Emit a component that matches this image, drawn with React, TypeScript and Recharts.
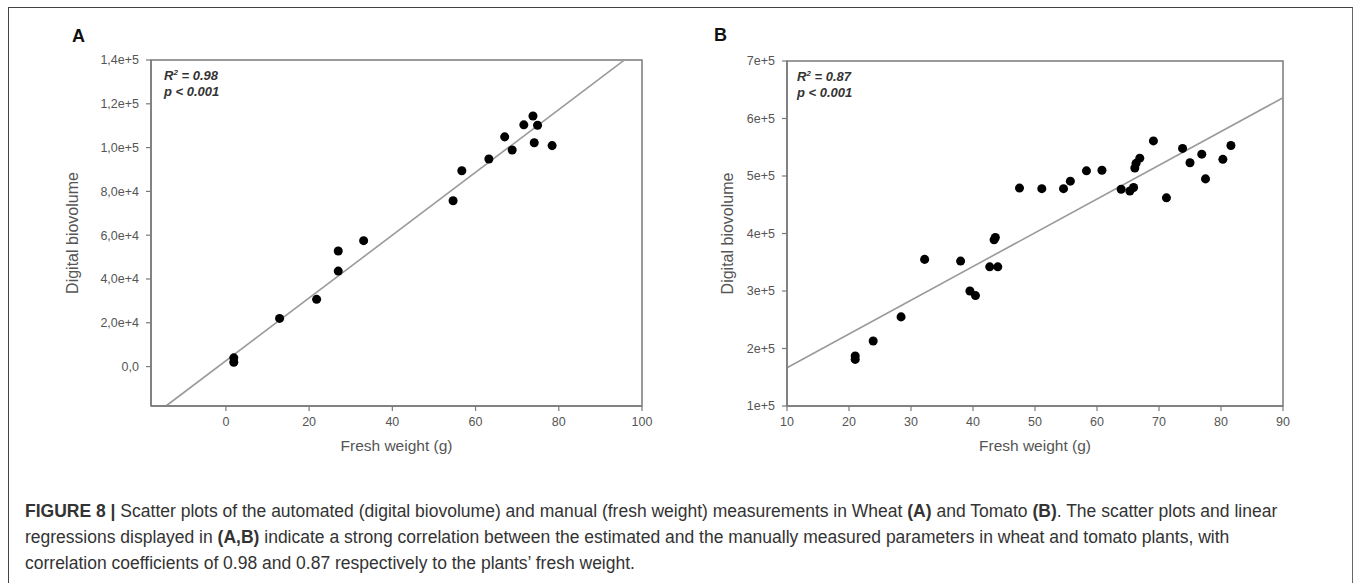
import React from 'react';
import {
  ScatterChart,
  Scatter,
  XAxis,
  YAxis,
  ZAxis,
  ReferenceLine,
  ReferenceArea,
} from 'recharts';

// ---------- Panel A (Wheat) ----------
const wheatFreshWeight = [73.8, 71.6, 74.9, 67.0, 74.1, 78.4, 68.8, 63.2, 56.7, 54.6, 33.1, 27.0, 27.0, 21.8, 12.9, 1.9, 1.9];
const wheatBiovolume = [114400, 110400, 110200, 104900, 102200, 100900, 98900, 94800, 89400, 75700, 57500, 52800, 43600, 30700, 22000, 4000, 2000];
const wheatXTicks = [0, 20, 40, 60, 80, 100];
const wheatYTicks = [0, 20000, 40000, 60000, 80000, 100000, 120000, 140000];
const wheatYTickLabels = ['0,0', '2,0e+4', '4,0e+4', '6,0e+4', '8,0e+4', '1,0e+5', '1,2e+5', '1,4e+5'];
const wheatXDomain = [-18, 100];
const wheatYDomain = [-18000, 140000];
const wheatFitSlope = 1434;
const wheatFitIntercept = 2650;
const wheatFitX = [-14.4, 95.8];

// ---------- Panel B (Tomato) ----------
const tomatoFreshWeight = [
  69.1, 73.8, 81.6, 76.9, 75.0, 80.3, 77.5, 66.9, 66.3, 66.1, 60.8, 65.9, 65.3, 63.9, 71.2,
  58.3, 55.7, 54.6, 51.1, 47.5, 43.6, 43.4, 44.0, 42.7, 32.2, 38.0, 39.5, 40.4, 28.4, 23.9, 21.0, 21.0,
];
const tomatoBiovolume = [
  561000, 548000, 553000, 538000, 523000, 529000, 495000, 531000, 522000, 514000, 510000, 480000, 474000, 477000, 462000,
  509000, 491000, 478000, 478000, 479000, 393000, 389000, 342000, 342000, 355000, 352000, 300000, 292000, 255000, 213000, 187000, 181000,
];
const tomatoXTicks = [10, 20, 30, 40, 50, 60, 70, 80, 90];
const tomatoYTicks = [100000, 200000, 300000, 400000, 500000, 600000, 700000];
const tomatoYTickLabels = ['1e+5', '2e+5', '3e+5', '4e+5', '5e+5', '6e+5', '7e+5'];
const tomatoXDomain = [10, 90];
const tomatoYDomain = [100000, 700000];
const tomatoFitSlope = 5868;
const tomatoFitIntercept = 107920;
const tomatoFitX = [10, 90];

const FONT = '"Liberation Sans", Arial, Helvetica, sans-serif';
const AXIS = '#7a7a7a';
const TICK_TEXT = '#555';

const wheatData = wheatFreshWeight.map((x, i) => ({ x, y: wheatBiovolume[i] }));
const tomatoData = tomatoFreshWeight.map((x, i) => ({ x, y: tomatoBiovolume[i] }));

type PanelProps = {
  data: { x: number; y: number }[];
  xDomain: number[];
  yDomain: number[];
  xTicks: number[];
  yTicks: number[];
  yTickLabels: string[];
  fitX: number[];
  slope: number;
  intercept: number;
  margin: { top: number; right: number; bottom: number; left: number };
  yAxisWidth: number;
  yLabelDx: number;
};

function Panel(p: PanelProps) {
  const fit = p.fitX.map((x) => ({ x, y: p.slope * x + p.intercept }));
  const tickStyle = { fontSize: 12.5, fill: TICK_TEXT, fontFamily: FONT };
  return (
    <ScatterChart width={680} height={480} margin={p.margin}>
      <XAxis
        type="number"
        dataKey="x"
        domain={p.xDomain}
        ticks={p.xTicks}
        allowDataOverflow
        height={60}
        tickSize={5}
        tickMargin={6}
        tick={tickStyle}
        axisLine={{ stroke: AXIS, strokeWidth: 1.5 }}
        tickLine={{ stroke: AXIS, strokeWidth: 1.2 }}
        label={{
          value: 'Fresh weight (g)',
          position: 'insideBottom',
          offset: 15,
          style: { fontSize: 15.5, fill: TICK_TEXT, fontFamily: FONT },
        }}
      />
      <YAxis
        type="number"
        dataKey="y"
        domain={p.yDomain}
        ticks={p.yTicks}
        allowDataOverflow
        width={p.yAxisWidth}
        tickSize={5}
        tickMargin={7}
        tick={tickStyle}
        tickFormatter={(v: number) => p.yTickLabels[p.yTicks.indexOf(v)] ?? String(v)}
        axisLine={{ stroke: AXIS, strokeWidth: 1.5 }}
        tickLine={{ stroke: AXIS, strokeWidth: 1.2 }}
        label={{
          value: 'Digital biovolume',
          angle: -90,
          position: 'center',
          dx: p.yLabelDx,
          style: { fontSize: 16, fill: TICK_TEXT, fontFamily: FONT, textAnchor: 'middle' },
        }}
      />
      <ZAxis range={[78, 78]} />
      <ReferenceArea
        x1={p.xDomain[0]}
        x2={p.xDomain[1]}
        y1={p.yDomain[0]}
        y2={p.yDomain[1]}
        fill="none"
        stroke={AXIS}
        strokeWidth={1.5}
        ifOverflow="visible"
      />
      <ReferenceLine
        segment={[fit[0], fit[1]]}
        stroke="#9a9a9a"
        strokeWidth={1.6}
        ifOverflow="visible"
      />
      <Scatter data={p.data} fill="#000" isAnimationActive={false} />
    </ScatterChart>
  );
}

const abs = (left: number, top: number): React.CSSProperties => ({ position: 'absolute', left, top });

const statStyle: React.CSSProperties = {
  fontFamily: FONT,
  fontSize: 13,
  fontWeight: 'bold',
  fontStyle: 'italic',
  color: '#333',
  lineHeight: '16px',
  whiteSpace: 'nowrap',
};

const letterStyle: React.CSSProperties = {
  fontFamily: FONT,
  fontSize: 18,
  fontWeight: 'bold',
  color: '#111',
  lineHeight: '20px',
};

export default function App() {
  return (
    <div style={{ position: 'absolute', left: 0, top: 0, width: 1360, height: 583, overflow: 'hidden', background: '#fff' }}>
      <div
        style={{
          position: 'absolute',
          left: 8,
          top: 7,
          width: 1343,
          height: 620,
          borderLeft: '1.5px solid #444',
          borderTop: '1.5px solid #444',
          borderRight: '1.5px solid #666',
        }}
      />
      <div style={abs(0, 0)}>
        <Panel
          data={wheatData}
          xDomain={wheatXDomain}
          yDomain={wheatYDomain}
          xTicks={wheatXTicks}
          yTicks={wheatYTicks}
          yTickLabels={wheatYTickLabels}
          fitX={wheatFitX}
          slope={wheatFitSlope}
          intercept={wheatFitIntercept}
          margin={{ top: 60, right: 38, bottom: 14, left: 60 }}
          yAxisWidth={91}
          yLabelDx={-33}
        />
      </div>
      <div style={abs(680, 0)}>
        <Panel
          data={tomatoData}
          xDomain={tomatoXDomain}
          yDomain={tomatoYDomain}
          xTicks={tomatoXTicks}
          yTicks={tomatoYTicks}
          yTickLabels={tomatoYTickLabels}
          fitX={tomatoFitX}
          slope={tomatoFitSlope}
          intercept={tomatoFitIntercept}
          margin={{ top: 61, right: 77, bottom: 14, left: 47 }}
          yAxisWidth={60}
          yLabelDx={-30}
        />
      </div>

      <div style={{ ...abs(72, 26), ...letterStyle }}>A</div>
      <div style={{ ...abs(714, 25), ...letterStyle }}>B</div>

      <div style={{ ...abs(164, 68), ...statStyle }}>
        R<sup style={{ fontSize: 8, verticalAlign: 'super', lineHeight: 0 }}>2</sup> = 0.98
        <br />p &lt; 0.001
      </div>
      <div style={{ ...abs(797, 69), ...statStyle }}>
        R<sup style={{ fontSize: 8, verticalAlign: 'super', lineHeight: 0 }}>2</sup> = 0.87
        <br />p &lt; 0.001
      </div>

      <div
        style={{
          position: 'absolute',
          left: 25,
          top: 498,
          fontFamily: FONT,
          fontSize: 17.5,
          lineHeight: '26px',
          color: '#333',
          whiteSpace: 'nowrap',
        }}
      >
        <b>FIGURE 8</b> <b>|</b> Scatter plots of the automated (digital biovolume) and manual (fresh weight) measurements in Wheat <b>(A)</b> and Tomato <b>(B)</b>. The scatter plots and linear
        <br />
        regressions displayed in <b>(A,B)</b> indicate a strong correlation between the estimated and the manually measured parameters in wheat and tomato plants, with
        <br />
        correlation coefficients of 0.98 and 0.87 respectively to the plants’ fresh weight.
      </div>
    </div>
  );
}
